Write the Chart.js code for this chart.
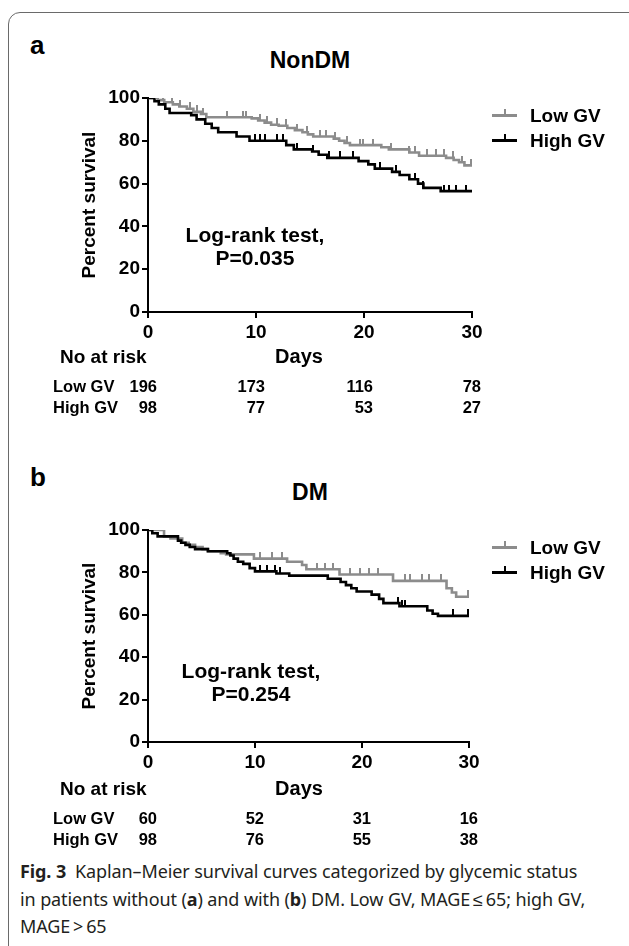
<!DOCTYPE html>
<html>
<head>
<meta charset="utf-8">
<script src="https://cdn.jsdelivr.net/npm/chart.js"></script>
<style>
  body { margin: 0; width: 629px; height: 946px; position: relative; overflow: hidden; background: #fff;
         font-family: "Liberation Sans", Arial, sans-serif; }
  #frame { position: absolute; left: 8px; top: 12px; width: 680px; height: 960px;
           border: 1.5px solid #6a6a6a; border-radius: 12px; }
  .t { position: absolute; font-weight: bold; color: #000; white-space: nowrap; line-height: 1; }
  canvas { position: absolute; left: 0; }
  #caption { position: absolute; left: 20px; top: 858px; width: 605px; font-family: "Noto Sans", sans-serif;
             font-size: 18px; line-height: 27.5px; color: #231f20; white-space: nowrap; letter-spacing: -0.1px; }
</style>
</head>
<body>
<div id="frame"></div>
<div id="caption"><b>Fig. 3</b>&ensp;Kaplan–Meier survival curves categorized by glycemic status<br>in patients without (<b>a</b>) and with (<b>b</b>) DM. Low GV, MAGE&thinsp;≤&thinsp;65; high GV,<br>MAGE&thinsp;&gt;&thinsp;65</div>

<script>
// ticks / groups
const tickDays = [0, 10, 20, 30];
const groupNames = ['Low GV', 'High GV'];

// NonDM - step curves (day, percent surviving) and censor marks
const nonDmLowDays = [0, 0.9, 1.5, 2.3, 2.9, 3.6, 4.2, 4.9, 5.4, 9.6, 10.2, 10.8, 11.4, 12.1, 12.9, 13.6, 14.3, 14.8, 15.3, 17.2, 17.7, 18.2, 18.7, 21.6, 22.3, 24.2, 25.1, 27.6, 28.3, 28.8, 29.3, 30];
const nonDmLowSurv = [100, 99, 98, 97, 96, 95, 93.5, 92.5, 91, 90.5, 89.5, 88.5, 87.5, 87, 86, 85, 84, 83, 82, 81, 80, 79, 78, 77, 76, 74.5, 73, 72, 71, 70, 68.5, 68.5];
const nonDmLowCensor = [0.7, 1.4, 2.2, 3.0, 3.9, 4.5, 5.1, 7.3, 8.8, 9.1, 10.4, 11.0, 11.9, 12.8, 13.8, 14.7, 15.9, 16.5, 17.3, 18.4, 19.6, 19.9, 20.8, 22.5, 24.2, 24.7, 25.8, 26.7, 27.4, 28.2, 29.1, 29.9];
const nonDmHighDays = [0, 0.6, 1.0, 1.6, 2.0, 4.0, 4.5, 5.3, 5.9, 6.5, 8.2, 9.4, 12.8, 13.5, 15.2, 15.8, 16.6, 19.5, 20.4, 21.0, 22.6, 23.3, 24.2, 25.0, 25.5, 27.1, 30];
const nonDmHighSurv = [100, 98.5, 97, 95, 93, 92, 90, 88, 86, 84, 82, 80, 78, 76, 75, 73.5, 72, 70.5, 69, 67, 65.5, 64, 62, 60, 58, 56.5, 56.5];
const nonDmHighCensor = [9.9, 10.4, 10.8, 11.9, 12.5, 13.8, 15.3, 16.8, 17.8, 19.0, 21.5, 23.0, 24.7, 25.5, 27.4, 27.9, 28.5, 29.4];
const nonDmRiskLow = [196, 173, 116, 78];
const nonDmRiskHigh = [98, 77, 53, 27];

// DM
const dmLowDays = [0, 1.5, 2.1, 3.2, 3.8, 4.4, 5.1, 5.6, 6.8, 7.3, 9.9, 13.0, 14.4, 14.8, 17.9, 22.9, 27.9, 28.4, 28.8, 30];
const dmLowSurv = [100, 97, 96, 94, 93, 92, 91, 90, 89, 88.5, 86.5, 85, 83.5, 81.5, 79, 76, 72.5, 70.5, 68.5, 68.5];
const dmLowCensor = [10.5, 11.6, 12.5, 15.8, 16.5, 17.3, 18.9, 19.8, 20.7, 21.5, 22.9, 24.0, 24.5, 25.6, 26.3, 27.4, 29.9];
const dmHighDays = [0, 0.4, 0.9, 2.8, 3.1, 3.5, 3.9, 4.4, 5.6, 7.4, 7.7, 8.0, 8.4, 8.9, 9.5, 10.0, 12.0, 13.2, 16.8, 18.0, 18.5, 19.0, 19.5, 20.9, 21.6, 22.0, 23.5, 26.1, 26.6, 27.1, 30];
const dmHighSurv = [100, 98.5, 97, 95, 94, 93, 92, 91, 90, 89, 88, 86.5, 85, 84, 82, 80.5, 79.5, 78.5, 77, 75.5, 74, 72.5, 71, 69.5, 67.5, 65.5, 64, 62, 60.5, 59.5, 59.5];
const dmHighCensor = [10.5, 11.1, 11.9, 12.3, 23.4, 23.7, 24.0, 28.5, 29.9];
const dmRiskLow = [60, 52, 31, 16];
const dmRiskHigh = [98, 76, 55, 38];

const GRAY = '#8c8c8c';
const BLACK = '#000000';
const FONT = 'Liberation Sans';

function addText(txt, x, y, size, align) {
  const d = document.createElement('div');
  d.className = 't';
  d.textContent = txt;
  d.style.left = x + 'px';
  d.style.top = y + 'px';
  d.style.fontSize = size + 'px';
  const tx = align === 'right' ? '-100%' : align === 'center' ? '-50%' : '0';
  d.style.transform = 'translate(' + tx + ',-50%)';
  document.body.appendChild(d);
  return d;
}

function legendItem(name, color, x, y) {
  const line = document.createElement('div');
  line.style.cssText = 'position:absolute;left:' + x + 'px;top:' + (y - 1) + 'px;width:25px;height:2.5px;background:' + color;
  const tick = document.createElement('div');
  tick.style.cssText = 'position:absolute;left:' + (x + 12) + 'px;top:' + (y - 6) + 'px;width:1.5px;height:6px;background:' + color;
  document.body.appendChild(line);
  document.body.appendChild(tick);
  addText(name, x + 38, y, 19, 'left');
}

// survival value at time t
function survAt(t, days, surv) {
  let s = surv[0];
  for (let i = 0; i < days.length; i++) if (days[i] <= t) s = surv[i];
  return s;
}

function tickImage(color) {
  const c = document.createElement('canvas');
  c.width = 2; c.height = 13;
  const g = c.getContext('2d');
  g.fillStyle = color;
  g.fillRect(0, 0, 2, 7);
  return c;
}

function panel(p) {
  const off = p.off;
  addText(p.letter, 30, off + 45, 26, 'left');
  addText(p.title, 310, off + 60, 23, 'center');

  const cv = document.createElement('canvas');
  cv.width = 629; cv.height = 270;
  cv.style.top = (off + 78) + 'px';
  document.body.appendChild(cv);

  const pts = (days, surv) => days.map((d, i) => ({ x: d, y: surv[i] }));
  const cens = (c, days, surv) => c.map(d => ({ x: d, y: survAt(d, days, surv) }));

  const chart = new Chart(cv, {
    type: 'line',
    data: {
      datasets: [
        { label: groupNames[0] + ' censored', data: cens(p.lowCens, p.lowDays, p.lowSurv), showLine: false,
          pointStyle: tickImage(GRAY), pointRadius: 4 },
        { label: groupNames[1] + ' censored', data: cens(p.highCens, p.highDays, p.highSurv), showLine: false,
          pointStyle: tickImage(BLACK), pointRadius: 4 },
        { label: groupNames[1], data: pts(p.highDays, p.highSurv), borderColor: BLACK, borderWidth: 2.6,
          stepped: true, pointRadius: 0, fill: false },
        { label: groupNames[0], data: pts(p.lowDays, p.lowSurv), borderColor: GRAY, borderWidth: 2.6,
          stepped: true, pointRadius: 0, fill: false }
      ]
    },
    options: {
      responsive: false,
      animation: false,
      devicePixelRatio: 1,
      layout: { padding: { left: 76, top: 20, right: 629 - p.right, bottom: 0 } },
      plugins: { legend: { display: false }, tooltip: { enabled: false } },
      scales: {
        x: {
          type: 'linear', min: 0, max: 30,
          afterFit: s => { s.height = p.xh; },
          afterBuildTicks: s => { s.ticks = tickDays.map(v => ({ value: v })); },
          grid: { drawOnChartArea: false, drawTicks: true, tickLength: 6, color: BLACK, lineWidth: 2 },
          border: { display: true, color: BLACK, width: 2 },
          ticks: { color: BLACK, padding: 3, font: { family: FONT, size: 19, weight: 'bold' } }
        },
        y: {
          min: 0, max: 100,
          afterFit: s => { s.width = 72; },
          grid: { drawOnChartArea: false, drawTicks: true, tickLength: 6, color: BLACK, lineWidth: 2 },
          border: { display: true, color: BLACK, width: 2 },
          ticks: { stepSize: 20, color: BLACK, padding: 2, font: { family: FONT, size: 19, weight: 'bold' } },
          title: { display: true, text: 'Percent survival', color: BLACK, padding: { top: 2, bottom: 0 },
                   font: { family: FONT, size: 19, weight: 'bold' } }
        }
      }
    }
  });

  legendItem(groupNames[0], GRAY, 492, off + 115);
  legendItem(groupNames[1], BLACK, 492, off + 140);

  addText('Log-rank test,', p.lrx, off + p.lry, 21, 'center');
  addText(p.pval, p.lrx, off + p.lry + 23, 21, 'center');

  // number at risk table under the axis
  addText('No at risk', 60, off + 356, 19, 'left');
  addText('Days', 299, off + 356, 20, 'center');
  addText(groupNames[0], 53, off + 386, 16.5, 'left');
  addText(groupNames[1], 53, off + 407, 16.5, 'left');
  const xs = chart.scales.x;
  tickDays.forEach((d, i) => {
    const px = xs.getPixelForValue(d) + 9;
    addText(String(p.riskLow[i]), px, off + 386, 16.5, 'right');
    addText(String(p.riskHigh[i]), px, off + 407, 16.5, 'right');
  });
}

panel({ off: 0, letter: 'a', title: 'NonDM', right: 472, xh: 36,
        lowDays: nonDmLowDays, lowSurv: nonDmLowSurv, lowCens: nonDmLowCensor,
        highDays: nonDmHighDays, highSurv: nonDmHighSurv, highCens: nonDmHighCensor,
        riskLow: nonDmRiskLow, riskHigh: nonDmRiskHigh,
        lrx: 255, lry: 234, pval: 'P=0.035' });

panel({ off: 432, letter: 'b', title: 'DM', right: 469, xh: 38,
        lowDays: dmLowDays, lowSurv: dmLowSurv, lowCens: dmLowCensor,
        highDays: dmHighDays, highSurv: dmHighSurv, highCens: dmHighCensor,
        riskLow: dmRiskLow, riskHigh: dmRiskHigh,
        lrx: 251, lry: 238, pval: 'P=0.254' });
</script>
</body>
</html>
